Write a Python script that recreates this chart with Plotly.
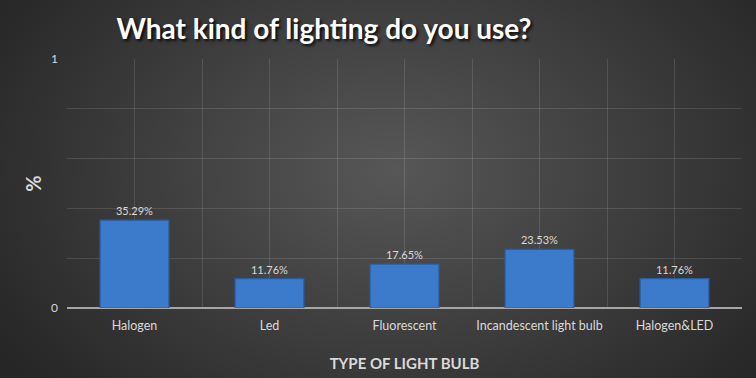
import plotly.graph_objects as go
import base64

categories = ["Halogen", "Led", "Fluorescent", "Incandescent light bulb", "Halogen&LED"]
values = [0.3529, 0.1176, 0.1765, 0.2353, 0.1176]
labels = ["35.29%", "11.76%", "17.65%", "23.53%", "11.76%"]
ytick_vals = [0, 0.2, 0.4, 0.6, 0.8, 1]
ytick_text = ["0", "", "", "", "", "1"]

W, H = 756, 378
ml, mr, mt, mb = 67, 14, 59, 70
pw, ph = W - ml - mr, H - mt - mb

svg = f'''<svg xmlns="http://www.w3.org/2000/svg" width="{W}" height="{H}" viewBox="0 0 {W} {H}" preserveAspectRatio="none">
<defs><radialGradient id="g" cx="0.52" cy="0.45" r="0.62" gradientTransform="translate(0.52 0.45) scale(1 1.4) translate(-0.52 -0.45)">
<stop offset="0" stop-color="#575757"/><stop offset="1" stop-color="#262626"/></radialGradient></defs>
<rect width="{W}" height="{H}" fill="url(#g)"/></svg>'''
bg_src = "data:image/svg+xml;base64," + base64.b64encode(svg.encode()).decode()

font = "Lato"
fig = go.Figure()
fig.add_trace(go.Bar(
    x=categories, y=values, text=labels, textposition="outside",
    textfont=dict(color="#d9d9d9", size=11, family=font),
    marker=dict(color="#3c7bcb", line=dict(color="#2b5d9e", width=1.2)),
    width=0.51, cliponaxis=False,
))

fig.update_layout(
    width=W, height=H,
    margin=dict(l=ml, r=mr, t=mt, b=mb, autoexpand=False),
    paper_bgcolor="#333333", plot_bgcolor="rgba(0,0,0,0)",
    showlegend=False,
    title=dict(text="What kind of lighting do you use?", x=324 / W, xanchor="center",
               y=1 - 29 / H, yanchor="middle",
               font=dict(family=font, size=28, color="white", weight="bold",
                         shadow="2px 2px 3px rgba(0,0,0,0.85)")),
    images=[dict(source=bg_src, xref="paper", yref="paper",
                 x=-ml / pw, y=1 + mt / ph, sizex=W / pw, sizey=H / ph,
                 xanchor="left", yanchor="top", sizing="stretch", layer="below")],
    xaxis=dict(type="category", categoryorder="array", categoryarray=categories,
               range=[-0.5, 4.5], showgrid=True, gridcolor="rgba(255,255,255,0.12)",
               showline=False, ticks="", automargin=False, ticklabelstandoff=8,
               tickfont=dict(color="#d9d9d9", size=12.5, family=font),
               title=dict(text="TYPE OF LIGHT BULB", standoff=26,
                          font=dict(family=font, size=15, color="#d9d9d9", weight="bold"))),
    xaxis2=dict(type="category", categoryorder="array", categoryarray=categories,
                range=[-0.5, 4.5], overlaying="x", tickson="boundaries", showgrid=True,
                gridcolor="rgba(255,255,255,0.12)", showticklabels=False, ticks="", side="bottom",
                automargin=False),
    yaxis=dict(range=[0, 1], tickvals=ytick_vals, ticktext=ytick_text, showgrid=True,
               gridcolor="rgba(255,255,255,0.12)", zeroline=True, zerolinecolor="#a6a6a6",
               zerolinewidth=1.5, showline=False, ticks="", automargin=False, ticklabelstandoff=8,
               tickfont=dict(color="#d9d9d9", size=12, family=font),
               title=dict(text="%", standoff=4,
                          font=dict(family=font, size=20, color="#d9d9d9", weight="bold"))),
)
fig.add_trace(go.Scatter(x=categories, y=[None] * len(categories), xaxis="x2",
                         mode="markers", hoverinfo="skip", showlegend=False))

fig.write_html("out.html", config={"displayModeBar": False},
               post_script="document.body.style.margin='0';document.body.style.overflow='hidden';")
